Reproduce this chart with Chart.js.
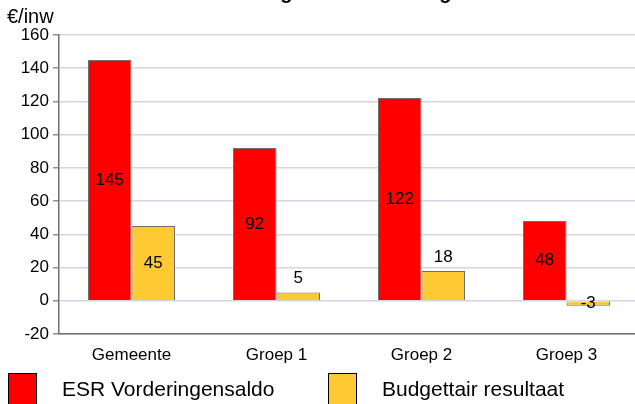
<!DOCTYPE html>
<html>
<head>
<meta charset="utf-8">
<script src="https://cdn.jsdelivr.net/npm/chart.js@4"></script>
<style>
  html, body { margin: 0; padding: 0; background: #fff; overflow: hidden; }
  #wrap { position: relative; width: 640px; height: 404px; }
</style>
</head>
<body>
<div id="wrap"><canvas id="myChart" width="640" height="404"></canvas></div>
<script>
  const categories = ['Gemeente', 'Groep 1', 'Groep 2', 'Groep 3'];
  const esrValues = [145, 92, 122, 48];
  const budgetValues = [45, 5, 18, -3];
  const seriesNames = ['ESR Vorderingensaldo', 'Budgettair resultaat'];
  const yTicks = [-20, 0, 20, 40, 60, 80, 100, 120, 140, 160];
  const titleText = 'Grafiek 1: ESR-vorderingensaldo en budgettair resultaat';
  const unitText = '€/inw';

  const font = 'Liberation Sans, Arial, sans-serif';

  // value labels: centred in tall bars, above short positive bars
  const valueLabels = {
    id: 'valueLabels',
    afterDatasetsDraw(chart) {
      const ctx = chart.ctx;
      ctx.save();
      ctx.font = '17px ' + font;
      ctx.fillStyle = '#000';
      ctx.textAlign = 'center';
      ctx.textBaseline = 'middle';
      chart.data.datasets.forEach((ds, i) => {
        chart.getDatasetMeta(i).data.forEach((bar, j) => {
          const v = ds.data[j];
          let y = (bar.y + bar.base) / 2;
          if (v > 0 && v < 30) y = bar.y - 14;
          ctx.fillText(String(v), bar.x, y);
        });
      });
      ctx.restore();
    }
  };

  // title (cut off at top), unit label and legend
  const extras = {
    id: 'extras',
    afterDraw(chart) {
      const ctx = chart.ctx;
      ctx.save();
      ctx.fillStyle = '#000';
      ctx.font = 'bold 20px ' + font;
      ctx.textAlign = 'center';
      ctx.textBaseline = 'bottom';
      ctx.fillText(titleText, 322, 3);

      ctx.font = '20px ' + font;
      ctx.textAlign = 'left';
      ctx.textBaseline = 'middle';
      ctx.fillText(unitText, 7, 17);

      const legendX = [8, 328];
      chart.data.datasets.forEach((ds, i) => {
        ctx.fillStyle = ds.backgroundColor;
        ctx.fillRect(legendX[i], 373, 29, 40);
        ctx.strokeStyle = '#000';
        ctx.lineWidth = 1;
        ctx.strokeRect(legendX[i] + 0.5, 373.5, 28, 40);
        ctx.fillStyle = '#000';
        ctx.font = '21px ' + font;
        ctx.fillText(ds.label, legendX[i] + 54, 390);
      });
      ctx.restore();
    }
  };

  const ctx = document.getElementById('myChart').getContext('2d');
  new Chart(ctx, {
    type: 'bar',
    data: {
      labels: categories,
      datasets: [
        {
          label: seriesNames[0],
          data: esrValues,
          backgroundColor: '#FF0000',
          borderColor: '#6e6e6e',
          borderWidth: 1,
          categoryPercentage: 0.6,
          barPercentage: 1
        },
        {
          label: seriesNames[1],
          data: budgetValues,
          backgroundColor: '#FFC933',
          borderColor: '#6e6e6e',
          borderWidth: 1,
          categoryPercentage: 0.6,
          barPercentage: 1
        }
      ]
    },
    options: {
      responsive: false,
      animation: false,
      layout: { padding: { top: 35, left: 0, right: 1, bottom: 0 } },
      plugins: {
        legend: { display: false },
        tooltip: { enabled: false }
      },
      scales: {
        x: {
          grid: { display: false, drawTicks: false },
          border: { display: true, color: '#707070', width: 1.5 },
          ticks: { color: '#000', font: { family: font, size: 17 }, padding: 11 },
          afterFit(scale) { scale.height = 70; }
        },
        y: {
          min: -20,
          max: 160,
          afterBuildTicks(scale) { scale.ticks = yTicks.map(v => ({ value: v })); },
          grid: { color: '#d4d4e4', lineWidth: 1.5, tickLength: 6, tickColor: '#909090' },
          border: { display: true, color: '#707070', width: 1.5 },
          ticks: { color: '#000', font: { family: font, size: 17 }, padding: 4 },
          afterFit(scale) { scale.width = 59; }
        }
      }
    },
    plugins: [valueLabels, extras]
  });
</script>
</body>
</html>
